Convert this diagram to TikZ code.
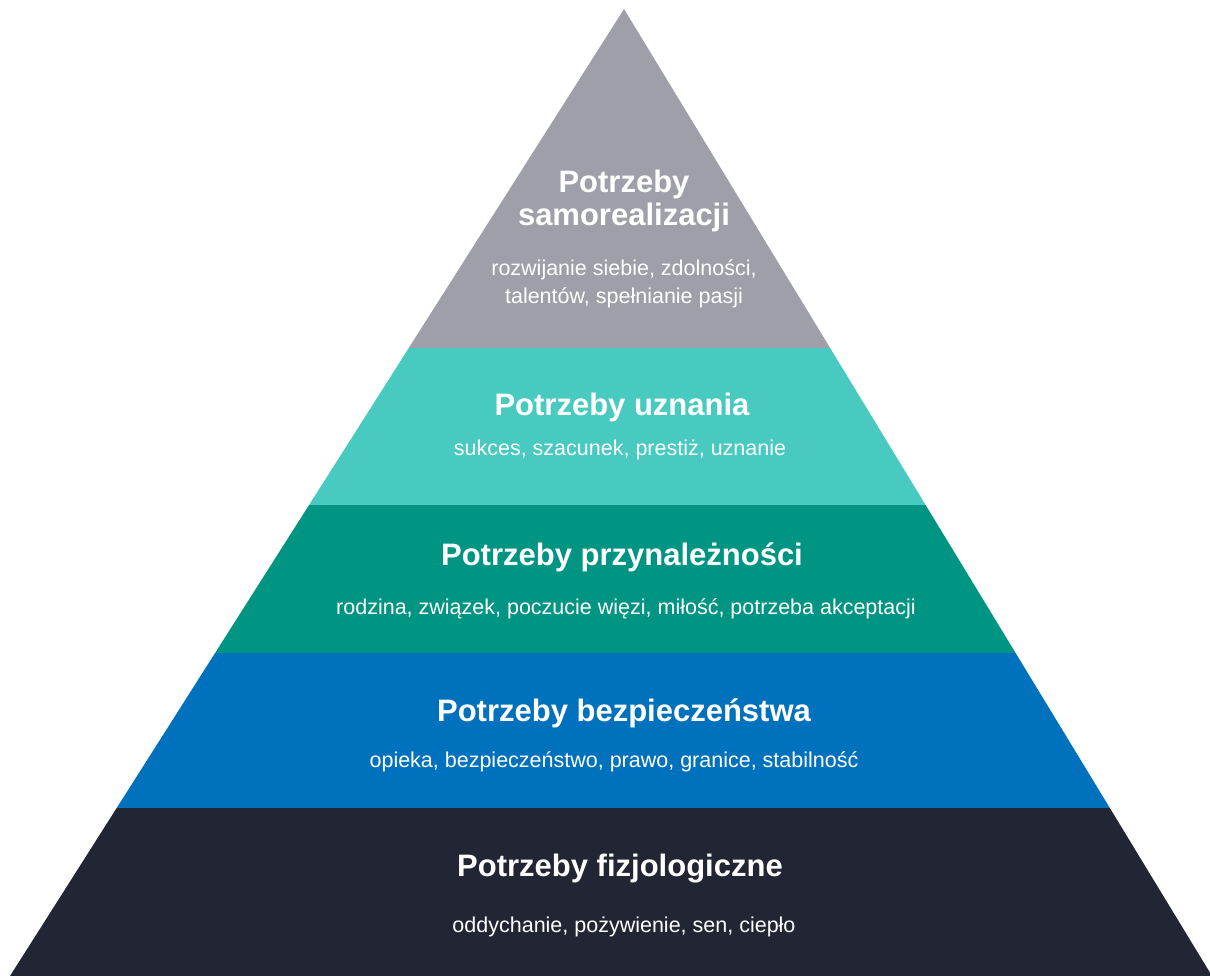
\documentclass[tikz,border=0pt]{standalone}
\usepackage{fontspec}
\setmainfont{Liberation Sans}

\definecolor{levelgray}{HTML}{9E9FA8}
\definecolor{levelteal}{HTML}{48CAC0}
\definecolor{levelgreen}{HTML}{009583}
\definecolor{levelblue}{HTML}{0071BC}
\definecolor{levelnavy}{HTML}{222533}

\tikzset{
  leveltitle/.style={text=white, align=center, font=\fontsize{31}{33}\selectfont\bfseries},
  leveltext/.style={text=white, align=center, font=\fontsize{21.5}{28}\selectfont}
}

\begin{document}
\begin{tikzpicture}[x=1pt,y=-1pt]
    \useasboundingbox (0,0) rectangle (1210,976);
    \coordinate (apex) at (624,9);
    \coordinate (baseleft) at (10,976);
    \coordinate (baseright) at (1212,976);
    % the five layers
    \begin{scope}
        \clip (apex) -- (baseleft) -- (baseright) -- cycle;
        \fill[levelgray] (0,0) rectangle (1210,348);
        \fill[levelteal] (0,348) rectangle (1210,505);
        \fill[levelgreen] (0,505) rectangle (1210,653);
        \fill[levelblue] (0,653) rectangle (1210,808);
        \fill[levelnavy] (0,808) rectangle (1210,976);
    \end{scope}
    % texts
    \node[leveltitle] (selftitle) at (624,201) {Potrzeby\\samorealizacji};
    \node[leveltext] (selftext) at (624,284) {rozwijanie siebie, zdolności,\\talentów, spełnianie pasji};
    \node[leveltitle] (esteemtitle) at (622,407) {Potrzeby uznania};
    \node[leveltext] (esteemtext) at (620,450) {sukces, szacunek, prestiż, uznanie};
    \node[leveltitle] (lovetitle) at (622,557) {Potrzeby przynależności};
    \node[leveltext] (lovetext) at (626,609) {rodzina, związek, poczucie więzi, miłość, potrzeba akceptacji};
    \node[leveltitle] (safetytitle) at (624,713) {Potrzeby bezpieczeństwa};
    \node[leveltext] (safetytext) at (614,762) {opieka, bezpieczeństwo, prawo, granice, stabilność};
    \node[leveltitle] (bodytitle) at (620,869) {Potrzeby fizjologiczne};
    \node[leveltext] (bodytext) at (624,927) {oddychanie, pożywienie, sen, ciepło};
\end{tikzpicture}
\end{document}
